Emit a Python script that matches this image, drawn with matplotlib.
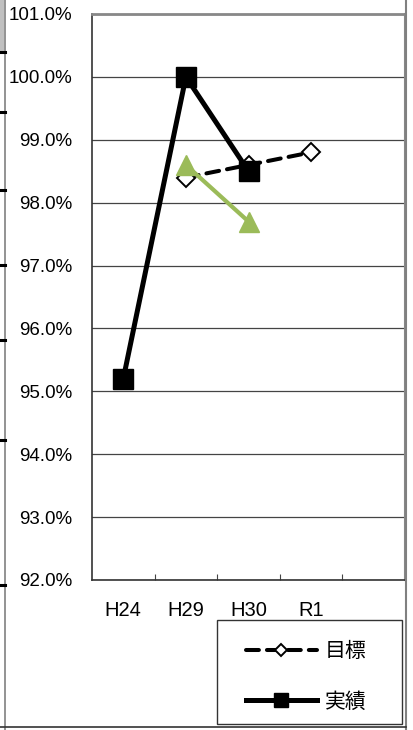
import matplotlib.pyplot as plt
from matplotlib.patches import Rectangle
from matplotlib.lines import Line2D

plt.rcParams['font.family'] = ['Liberation Sans', 'Noto Sans CJK JP', 'DejaVu Sans']

# data
years = ['H24', 'H29', 'H30', 'R1']
target_x = [1, 2, 3]
target = [98.4, 98.6, 98.8]
actual_x = [0, 1, 2]
actual = [95.2, 100.0, 98.5]
trend_x = [1, 2]
trend = [98.6, 97.7]

W, H = 413, 730
fig = plt.figure(figsize=(W / 100, H / 100), dpi=100)
ax = fig.add_axes([92 / W, 1 - 580 / H, 313 / W, 566 / H])

ax.plot([x + 0.5 for x in target_x], target, color='black', lw=2.9, ls=(0, (3.2, 2.0)),
        dash_capstyle='round', marker='D', ms=9, mfc='white', mec='black', mew=1.4,
        zorder=3, label='目標')
ax.plot([x + 0.5 for x in trend_x], trend, color='#9bbb59', lw=3, marker='^', ms=14,
        zorder=4)
ax.plot([x + 0.5 for x in actual_x], actual, color='black', lw=3.6, marker='s', ms=14,
        zorder=5, label='実績')

ax.set_xlim(0, 5)
ax.set_ylim(92, 101)
ax.set_yticks(range(92, 102))
ax.set_yticklabels([f'{v:.1f}%' for v in range(92, 102)])
ax.yaxis.grid(True, color='#444444', lw=0.9)
ax.tick_params(axis='y', length=0, pad=14, labelsize=13.5)

ax.set_xticks([1, 2, 3, 4])
ax.set_xticklabels([])
ax.set_xticks([0.5, 1.5, 2.5, 3.5], years, minor=True)
ax.tick_params(axis='x', which='major', direction='in', length=4, color='#444444')
ax.tick_params(axis='x', which='minor', length=0, pad=15, labelsize=14.5)

for s in ['left', 'bottom']:
    ax.spines[s].set_color('#333333')
    ax.spines[s].set_linewidth(1.2)
ax.spines['top'].set_color('#888888')
ax.spines['top'].set_linewidth(2)
ax.spines['right'].set_color('#888888')
ax.spines['right'].set_linewidth(1.5)

# surrounding sheet artefacts
fig.add_artist(Rectangle((0, 1 - 52 / H), 4 / W, 52 / H, transform=fig.transFigure,
                         facecolor='#c0c0c0', edgecolor='none'))
fig.add_artist(Line2D([4.5 / W, 4.5 / W], [0, 1], transform=fig.transFigure,
                      color='#808080', lw=1.2))
fig.add_artist(Line2D([405.5 / W, 405.5 / W], [0, 1], transform=fig.transFigure,
                      color='#808080', lw=1.5))
fig.add_artist(Line2D([0, 405.5 / W], [1 - 727 / H, 1 - 727 / H], transform=fig.transFigure,
                      color='#333333', lw=1.2))
for yy in [52, 112, 190, 265, 340, 440, 585]:
    fig.add_artist(Line2D([0, 5 / W], [1 - yy / H, 1 - yy / H], transform=fig.transFigure,
                          color='black', lw=2.2))

# legend box
fig.add_artist(Rectangle((217 / W, 1 - 724 / H), 185 / W, 104 / H, transform=fig.transFigure,
                         facecolor='white', edgecolor='#333333', lw=1))
fig.legend(loc='upper left', bbox_to_anchor=(246 / W, 1 - 642 / H), frameon=False,
           fontsize=15, handlelength=3.4, handletextpad=0.4, labelspacing=1.48,
           borderpad=0, borderaxespad=0, markerscale=0.72)

fig.savefig('out.png', dpi=100)
